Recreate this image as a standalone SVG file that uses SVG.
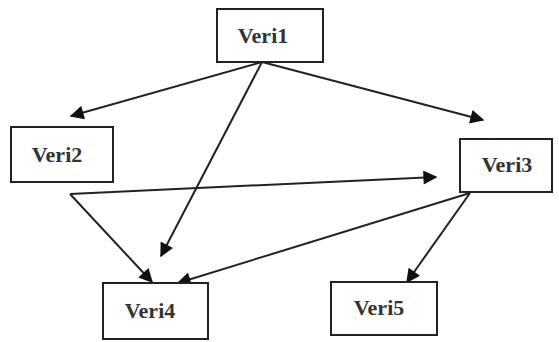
<svg xmlns="http://www.w3.org/2000/svg" width="559" height="342" viewBox="0 0 559 342">
<style>
.box{fill:#fff;stroke:#222;stroke-width:2}
.lbl{font-family:"Liberation Serif",serif;font-size:22px;font-weight:bold;fill:#333;text-anchor:middle}
.edge{stroke:#222;stroke-width:2;fill:none;marker-end:url(#ah)}
</style>
<defs>
<marker id="ah" viewBox="0 0 10 10" refX="9" refY="5" markerWidth="8" markerHeight="7" markerUnits="strokeWidth" orient="auto">
<path d="M0,0 L10,5 L0,10 z" fill="#111"/>
</marker>
</defs>
<rect width="559" height="342" fill="#fff"/>
<g id="edges">
<line class="edge" x1="262" y1="62" x2="71" y2="116"/>
<line class="edge" x1="262" y1="62" x2="483" y2="120"/>
<line class="edge" x1="262" y1="62" x2="161" y2="256"/>
<line class="edge" x1="70" y1="194" x2="436" y2="177"/>
<line class="edge" x1="70" y1="194" x2="152" y2="282"/>
<line class="edge" x1="470" y1="193" x2="178" y2="283"/>
<line class="edge" x1="470" y1="193" x2="407" y2="282"/>
</g>
<g id="veri1"><rect class="box" x="217" y="9" width="106" height="53"/><text class="lbl" x="263" y="43">Veri1</text></g>
<g id="veri2"><rect class="box" x="11" y="127" width="102" height="55"/><text class="lbl" x="57" y="162">Veri2</text></g>
<g id="veri3"><rect class="box" x="460" y="139" width="92" height="53"/><text class="lbl" x="507" y="172">Veri3</text></g>
<g id="veri4"><rect class="box" x="103" y="283" width="105" height="56"/><text class="lbl" x="150" y="318">Veri4</text></g>
<g id="veri5"><rect class="box" x="331" y="282" width="106" height="53"/><text class="lbl" x="379" y="315">Veri5</text></g>
</svg>
